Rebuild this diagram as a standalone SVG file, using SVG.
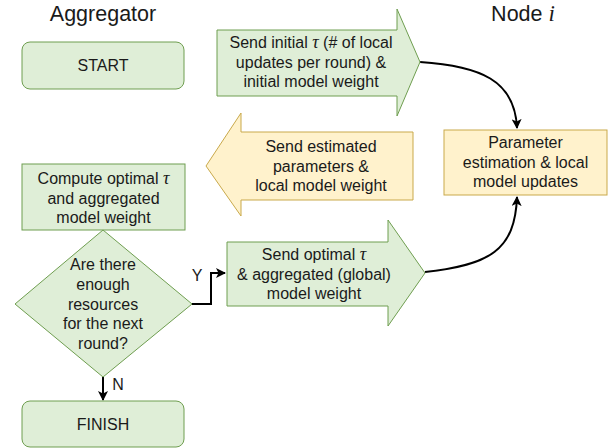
<svg xmlns="http://www.w3.org/2000/svg" width="613" height="448" viewBox="0 0 613 448">
<defs>
<style>
.g{fill:#dfeed7;stroke:#6f9e50;stroke-width:1}
.y{fill:#fff2cc;stroke:#c9a94b;stroke-width:1}
text{font-family:"Liberation Sans",Arial,sans-serif;font-size:16px;fill:#1a1a1a;text-anchor:middle}
.t{font-size:21.5px}
.m{font-family:"Liberation Serif","DejaVu Serif",serif;font-style:italic;font-size:18px}
.mt{font-family:"Liberation Serif","DejaVu Serif",serif;font-style:italic;font-size:23px}
.c{fill:none;stroke:#000;stroke-width:2}
</style>
<marker id="ah" viewBox="0 0 10 10" refX="9" refY="5" markerWidth="10" markerHeight="10" markerUnits="userSpaceOnUse" orient="auto">
<path d="M0,0 L10,5 L0,10 L2.5,5 Z" fill="#000"/>
</marker>
</defs>
<g id="titles">
<text class="t" x="103" y="21">Aggregator</text>
<text class="t" x="523" y="21">Node <tspan class="mt">i</tspan></text>
</g>
<g id="connectors">
<path class="c" d="M420,62 C480,66 515,80 517,128" marker-end="url(#ah)"/>
<path class="c" d="M425,272 C490,265 515,250 517,197" marker-end="url(#ah)"/>
<path class="c" d="M192,304 L211,304 L211,273 L225,273" marker-end="url(#ah)"/>
<path class="c" d="M103,377 L103,400" marker-end="url(#ah)"/>
<text x="197" y="281">Y</text>
<text x="118" y="390">N</text>
</g>
<g id="start">
<rect class="g" x="22" y="42" width="162" height="47" rx="8"/>
<text x="103" y="71">START</text>
</g>
<g id="send-initial">
<polygon class="g" points="217,30 397,30 397,9 420,62 397,116 397,96 217,96"/>
<text x="311" y="48">Send initial <tspan class="m">τ</tspan> (# of local</text>
<text x="311" y="68">updates per round) &amp;</text>
<text x="311" y="87">initial model weight</text>
</g>
<g id="param-est">
<rect class="y" x="444" y="130" width="163" height="65"/>
<text x="525.5" y="148">Parameter</text>
<text x="525.5" y="168">estimation &amp; local</text>
<text x="525.5" y="187">model updates</text>
</g>
<g id="send-estimated">
<polygon class="y" points="413,132 241,132 241,113 206,166 241,216 241,200 413,200"/>
<text x="321" y="152">Send estimated</text>
<text x="321" y="172">parameters &amp;</text>
<text x="321" y="191">local model weight</text>
</g>
<g id="compute">
<rect class="g" x="22" y="164" width="163" height="66"/>
<text x="103.5" y="184">Compute optimal <tspan class="m">τ</tspan></text>
<text x="103.5" y="204">and aggregated</text>
<text x="103.5" y="223">model weight</text>
</g>
<g id="decision">
<polygon class="g" points="103,230 192,304 103,377 15,304"/>
<text x="103" y="270">Are there</text>
<text x="103" y="290">enough</text>
<text x="103" y="310">resources</text>
<text x="103" y="329">for the next</text>
<text x="103" y="349">round?</text>
</g>
<g id="send-optimal">
<polygon class="g" points="227,242 388,242 388,220 425,273 388,326 388,306 227,306"/>
<text x="314" y="260">Send optimal <tspan class="m">τ</tspan></text>
<text x="314" y="280">&amp; aggregated (global)</text>
<text x="314" y="299">model weight</text>
</g>
<g id="finish">
<rect class="g" x="22" y="401" width="162" height="46" rx="8"/>
<text x="103" y="430">FINISH</text>
</g>
</svg>
